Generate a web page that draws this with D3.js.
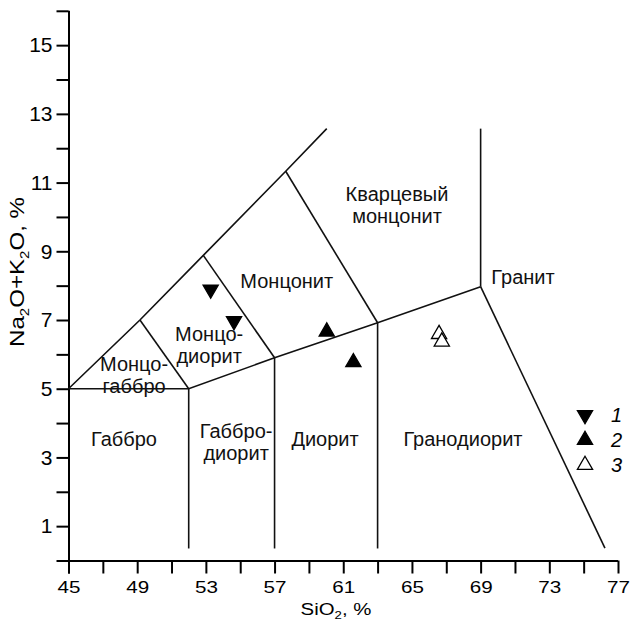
<!DOCTYPE html>
<html>
<head>
<meta charset="utf-8">
<script src="https://cdn.jsdelivr.net/npm/d3@7"></script>
<style>
  html, body { margin: 0; padding: 0; background: #fff; }
  svg { display: block; font-family: "Liberation Sans", Arial, sans-serif; }
</style>
</head>
<body>
<svg id="chart" width="631" height="621"></svg>
<script>
// TAS classification field boundaries (SiO2, Na2O+K2O)
const boundaries = [
  [[45, 5], [49.16, 7.0], [52.85, 8.88], [57.65, 11.33], [60.04, 12.57]],
  [[45, 5], [52, 5], [57, 5.9], [63, 6.92], [69, 7.97]],
  [[49.16, 7.0], [52, 5]],
  [[52.85, 8.88], [57, 5.9]],
  [[57.65, 11.33], [63, 6.92]],
  [[52, 5], [52, 0.35]],
  [[57, 5.9], [57, 0.35]],
  [[63, 6.92], [63, 0.35]],
  [[69, 7.97], [69, 12.57]],
  [[69, 7.97], [76.24, 0.36]]
];

// Field names: lines of text and baseline anchor (SiO2, Na2O+K2O)
const fieldNames = [
  { lines: ["Кварцевый", "монцонит"], x: 64.13, y: 10.46 },
  { lines: ["Монцонит"], x: 57.71, y: 7.94 },
  { lines: ["Гранит"], x: 71.47, y: 8.05 },
  { lines: ["Монцо-", "диорит"], x: 53.19, y: 6.39 },
  { lines: ["Монцо-", "габбро"], x: 48.82, y: 5.53 },
  { lines: ["Габбро"], x: 48.23, y: 3.34 },
  { lines: ["Габбро-", "диорит"], x: 54.76, y: 3.58 },
  { lines: ["Диорит"], x: 59.94, y: 3.34 },
  { lines: ["Гранодиорит"], x: 67.97, y: 3.34 }
];

// Sample groups
const sio2Group1 = [53.28, 54.64];
const alkGroup1 = [7.89, 6.97];
const sio2Group2 = [60.04, 61.59];
const alkGroup2 = [6.66, 5.77];
const sio2Group3 = [66.58, 66.74];
const alkGroup3 = [6.59, 6.37];

const legendLabels = ["1", "2", "3"];
const xTicks = d3.range(45, 78, 2);
const yTicks = d3.range(0, 17, 1);

const svg = d3.select("#chart");
const x = d3.scaleLinear().domain([45, 77]).range([68.5, 618]);
const y = d3.scaleLinear().domain([0, 16]).range([560.5, 10.8]);

// Axes
const xAxis = d3.axisBottom(x)
  .tickValues(xTicks)
  .tickSize(13)
  .tickSizeOuter(0)
  .tickPadding(8)
  .tickFormat(d => ((d - 45) % 4 === 0 ? d : ""));
const gx = svg.append("g").attr("transform", `translate(0,${y(0)})`).call(xAxis);
gx.select(".domain").attr("d", `M57,0.5H${x(77)}`).attr("stroke-width", 2);
gx.selectAll(".tick line").attr("stroke-width", 2);
gx.selectAll(".tick text").attr("font-size", 16.5).attr("fill", "#000")
  .attr("font-family", "Liberation Sans, Arial, sans-serif")
  .attr("transform", "scale(1.25,1)");

const yAxis = d3.axisLeft(y)
  .tickValues(yTicks)
  .tickSize(12)
  .tickSizeOuter(0)
  .tickPadding(4)
  .tickFormat(d => (d % 2 === 1 ? d : ""));
const gy = svg.append("g").attr("transform", `translate(${x(45)},0)`).call(yAxis);
gy.select(".domain").attr("d", `M0.5,${y(16)}V${y(0) + 13}`).attr("stroke-width", 2);
gy.selectAll(".tick line").attr("stroke-width", 2);
gy.selectAll(".tick text").attr("font-size", 21).attr("fill", "#000")
  .attr("font-family", "Liberation Sans, Arial, sans-serif");

// Axis titles
const xt = svg.append("text")
  .attr("transform", "translate(336,615) scale(1.2,1)")
  .attr("text-anchor", "middle").attr("font-size", 17);
xt.append("tspan").text("SiO");
xt.append("tspan").attr("font-size", 11).attr("dy", 3.5).text("2");
xt.append("tspan").attr("dy", -3.5).text(", %");

const yt = svg.append("text")
  .attr("transform", "translate(24,272) rotate(-90) scale(1.15,1)")
  .attr("text-anchor", "middle").attr("font-size", 21);
yt.append("tspan").text("Na");
yt.append("tspan").attr("font-size", 13).attr("dy", 5).text("2");
yt.append("tspan").attr("dy", -5).text("O+K");
yt.append("tspan").attr("font-size", 13).attr("dy", 5).text("2");
yt.append("tspan").attr("dy", -5).text("O, %");

// Field boundaries
const line = d3.line().x(d => x(d[0])).y(d => y(d[1]));
svg.append("g").selectAll("path").data(boundaries).join("path")
  .attr("d", line).attr("fill", "none").attr("stroke", "#111").attr("stroke-width", 1.6);

// Field names
const names = svg.append("g").attr("font-size", 20).attr("text-anchor", "middle").attr("fill", "#111");
fieldNames.forEach(f => {
  const t = names.append("text").attr("x", x(f.x)).attr("y", y(f.y));
  f.lines.forEach((s, i) => {
    t.append("tspan").attr("x", x(f.x)).attr("dy", i === 0 ? 0 : 22).text(s);
  });
});

// Sample markers
const tri = d3.symbol().type(d3.symbolTriangle).size(100);
function plot(xs, ys, rotate, fill) {
  svg.append("g").selectAll("path").data(xs.map((v, i) => [v, ys[i]])).join("path")
    .attr("d", tri)
    .attr("transform", d => `translate(${x(d[0])},${y(d[1])}) rotate(${rotate})`)
    .attr("fill", fill).attr("stroke", "#000").attr("stroke-width", 1.3);
}
plot(sio2Group1, alkGroup1, 180, "#000");
plot(sio2Group2, alkGroup2, 0, "#000");
plot(sio2Group3, alkGroup3, 0, "#fff");

// Legend
const legendY = [415, 440, 465];
const legendStyle = [[180, "#000"], [0, "#000"], [0, "#fff"]];
legendLabels.forEach((lab, i) => {
  svg.append("path").attr("d", tri)
    .attr("transform", `translate(585,${legendY[i]}) rotate(${legendStyle[i][0]})`)
    .attr("fill", legendStyle[i][1]).attr("stroke", "#000").attr("stroke-width", 1.3);
  svg.append("text").attr("x", 611).attr("y", legendY[i] + 7)
    .attr("font-size", 20).attr("font-style", "italic").text(lab);
});
</script>
</body>
</html>
